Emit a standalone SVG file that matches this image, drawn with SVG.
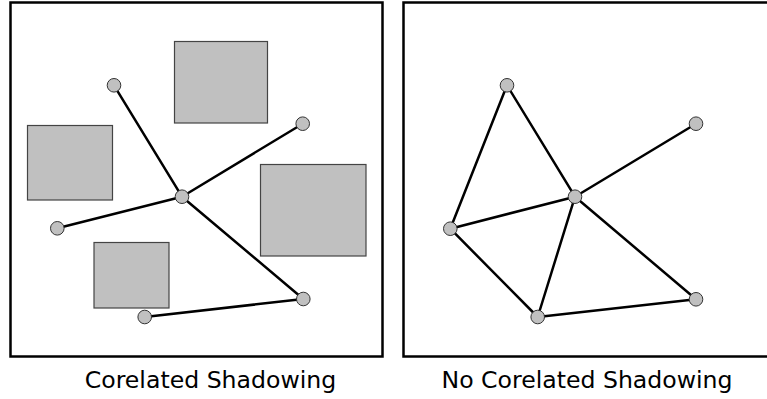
<svg xmlns="http://www.w3.org/2000/svg" width="767" height="399" viewBox="0 0 767 399">
<style>
.frame{fill:#fff;stroke:#000;stroke-width:2.5}
.obs{fill:#c0c0c0;stroke:#444;stroke-width:1.2}
.node{fill:#c0c0c0;stroke:#333;stroke-width:1}
.edge{stroke:#000;stroke-width:2.5;stroke-linecap:round}
.lbl{font-family:"DejaVu Sans",sans-serif;font-size:23.6px;fill:#000;text-anchor:middle}
</style>
<rect width="767" height="399" fill="#fff"/>
<g id="panel-left">
<rect class="frame" x="10.5" y="2.5" width="372" height="354"/>
<rect class="obs" x="174.5" y="41.5" width="93" height="81.5"/>
<rect class="obs" x="27.5" y="125.5" width="85" height="74.5"/>
<rect class="obs" x="260.5" y="164.5" width="105.5" height="91.5"/>
<rect class="obs" x="94" y="242.5" width="75" height="65.5"/>
</g>
<g id="panel-right">
<rect class="frame" x="403.5" y="2.5" width="370" height="354"/>
</g>
<g id="connectors">
<line class="edge" x1="114" y1="85.3" x2="182" y2="196.7"/>
<line class="edge" x1="302.7" y1="123.7" x2="182" y2="196.7"/>
<line class="edge" x1="57.3" y1="228.3" x2="182" y2="196.7"/>
<line class="edge" x1="303.3" y1="299" x2="182" y2="196.7"/>
<line class="edge" x1="144.7" y1="317" x2="303.3" y2="299"/>
<line class="edge" x1="507" y1="85.3" x2="450.3" y2="228.7"/>
<line class="edge" x1="507" y1="85.3" x2="575" y2="196.7"/>
<line class="edge" x1="696" y1="123.7" x2="575" y2="196.7"/>
<line class="edge" x1="450.3" y1="228.7" x2="575" y2="196.7"/>
<line class="edge" x1="537.7" y1="317" x2="575" y2="196.7"/>
<line class="edge" x1="696" y1="299.3" x2="575" y2="196.7"/>
<line class="edge" x1="450.3" y1="228.7" x2="537.7" y2="317"/>
<line class="edge" x1="537.7" y1="317" x2="696" y2="299.3"/>
</g>
<g id="node-l1"><circle class="node" cx="114" cy="85.3" r="6.8"/></g>
<g id="node-l2"><circle class="node" cx="302.7" cy="123.7" r="6.8"/></g>
<g id="node-l3"><circle class="node" cx="182" cy="196.7" r="6.8"/></g>
<g id="node-l4"><circle class="node" cx="57.3" cy="228.3" r="6.8"/></g>
<g id="node-l5"><circle class="node" cx="303.3" cy="299" r="6.8"/></g>
<g id="node-l6"><circle class="node" cx="144.7" cy="317" r="6.8"/></g>
<g id="node-r1"><circle class="node" cx="507" cy="85.3" r="6.8"/></g>
<g id="node-r2"><circle class="node" cx="696" cy="123.7" r="6.8"/></g>
<g id="node-r3"><circle class="node" cx="575" cy="196.7" r="6.8"/></g>
<g id="node-r4"><circle class="node" cx="450.3" cy="228.7" r="6.8"/></g>
<g id="node-r5"><circle class="node" cx="696" cy="299.3" r="6.8"/></g>
<g id="node-r6"><circle class="node" cx="537.7" cy="317" r="6.8"/></g>
<text class="lbl" x="210.5" y="388">Corelated Shadowing</text>
<text class="lbl" x="587" y="388">No Corelated Shadowing</text>
</svg>
